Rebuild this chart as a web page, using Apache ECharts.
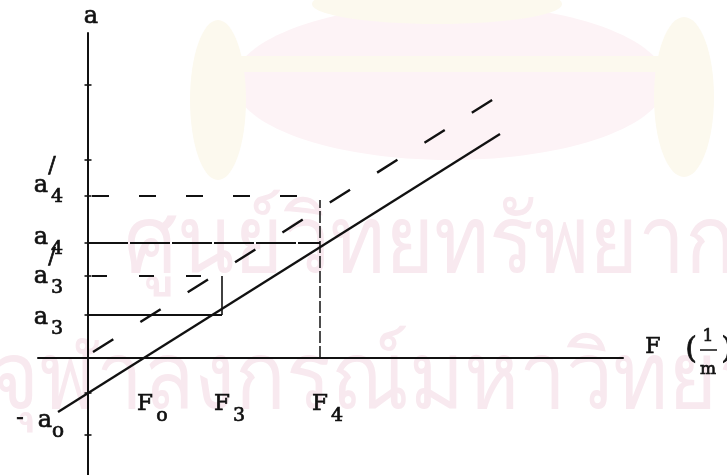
<!DOCTYPE html>
<html>
<head>
<meta charset="utf-8">
<script src="https://cdn.jsdelivr.net/npm/echarts@6/dist/echarts.min.js"></script>
<style>
html, body { margin: 0; padding: 0; background: #fff; }
#main { width: 727px; height: 475px; }
</style>
</head>
<body>
<div id="main"></div>
<script>
// values (1 unit ~ 10px)
var yLevelNames = ["a4'", 'a4', "a3'", 'a3'];
var yLevels = [16.2, 11.5, 8.2, 4.3];
var fNames = ['F0', 'F3', 'F4'];
var fValues = [5.7, 13.4, 23.2];
var a0 = -3.5;
var yTickMarks = [27.3, 19.8, 16.2, 11.5, 8.2, 4.3, -3.5, -7.7];
var solidLine = [[-3.0, -5.4], [41.2, 22.4]];
var dashedLine = [[0.5, 0.6], [42.0, 26.8]];

// hand lettering sits a little off the tick on the scan
var labelDy = [-10, -5, 1, 3];

var a4p = yLevels[0], a4 = yLevels[1], a3p = yLevels[2], a3 = yLevels[3];
var F3 = fValues[1], F4 = fValues[2];
var ink = '#111';
var font = '"DejaVu Serif", "Liberation Serif", serif';

function seg(data, type, width) {
    return {
        type: 'line',
        data: data,
        symbol: 'none',
        silent: true,
        z: 3,
        lineStyle: { color: ink, width: width, type: type }
    };
}

var option = {
    animation: false,
    backgroundColor: '#fff',
    grid: { left: 38, right: 104, top: 33, bottom: 0 },
    xAxis: {
        type: 'value',
        min: -5,
        max: 53.5,
        axisLine: { onZero: true, lineStyle: { color: ink, width: 2 } },
        axisTick: { show: false },
        axisLabel: { show: false },
        splitLine: { show: false }
    },
    yAxis: {
        type: 'value',
        min: -11.7,
        max: 32.5,
        axisLine: { onZero: true, lineStyle: { color: ink, width: 2 } },
        axisTick: { show: false },
        axisLabel: { show: false },
        splitLine: { show: false }
    },
    series: [
        seg(solidLine, 'solid', 2.3),
        seg(dashedLine, [24, 32], 2.4),
        seg([[0, a3], [F3, a3]], 'solid', 2),
        seg([[F3, a3], [F3, a3p]], 'solid', 1.6),
        seg([[0.4, a3p], [F3, a3p]], [15, 32], 1.8),
        seg([[0, a4], [F4, a4]], [40, 2], 1.8),
        seg([[0.4, a4p], [F4, a4p]], [17, 30], 1.8),
        seg([[F4, 0], [F4, a4p - 0.4]], [12, 3], 1.5),
        {
            type: 'scatter',
            silent: true,
            symbol: 'rect',
            symbolSize: [7, 2],
            itemStyle: { color: ink },
            z: 4,
            data: yTickMarks.map(function (v) { return [0, v]; })
        }
    ]
};

var chart = echarts.init(document.getElementById('main'));
chart.setOption(option);

function txt(x, y, s, size) {
    return {
        type: 'text', x: x, y: y, z: 10, silent: true,
        style: {
            text: s, font: size + 'px ' + font, fill: ink,
            stroke: ink, lineWidth: 0.7,
            textAlign: 'center', textVerticalAlign: 'middle',
            align: 'center', verticalAlign: 'middle'
        }
    };
}
function px(x, y) { return chart.convertToPixel({ gridIndex: 0 }, [x, y]); }

var cream = '#fcf9ee';
var g = [
    // faint watermark of the scan
    { type: 'ellipse', z: -5, silent: true, shape: { cx: 450, cy: 82, rx: 216, ry: 78 }, style: { fill: '#fdf3f6' } },
    { type: 'rect', z: -4, silent: true, shape: { x: 200, y: 56, width: 505, height: 16, r: 8 }, style: { fill: cream } },
    { type: 'ellipse', z: -4, silent: true, shape: { cx: 218, cy: 100, rx: 28, ry: 80 }, style: { fill: cream } },
    { type: 'ellipse', z: -4, silent: true, shape: { cx: 684, cy: 97, rx: 30, ry: 80 }, style: { fill: cream } },
    { type: 'ellipse', z: -4, silent: true, shape: { cx: 437, cy: 4, rx: 125, ry: 20 }, style: { fill: cream } },
    { type: 'text', z: -3, silent: true, x: 124, y: 246, scaleY: 1.12,
      style: { text: 'ศูนย์วิทยทรัพยากร', font: '84px sans-serif', fill: '#f8e9ef', textVerticalAlign: 'middle', verticalAlign: 'middle' } },
    { type: 'text', z: -3, silent: true, x: -10, y: 382, scaleY: 1.12,
      style: { text: 'จุฬาลงกรณ์มหาวิทยาลัย', font: '84px sans-serif', fill: '#f8e9ef', textVerticalAlign: 'middle', verticalAlign: 'middle' } }
];

yLevels.forEach(function (v, i) {
    var p = px(0, v);
    var name = yLevelNames[i];
    var dy = labelDy[i];
    g.push(txt(p[0] - 47, p[1] + dy, 'a', 24));
    g.push(txt(p[0] - 31, p[1] + dy + 11, name.charAt(1), 19));
    if (name.indexOf("'") >= 0) {
        g.push(txt(p[0] - 36, p[1] + dy - 20, '/', 22));
    }
});
var pa = px(0, a0);
g.push(txt(pa[0] - 68, pa[1] + 25, '-', 22));
g.push(txt(pa[0] - 43, pa[1] + 28, 'a', 24));
g.push(txt(pa[0] - 30, pa[1] + 39, 'o', 20));

fValues.forEach(function (v, i) {
    var p = px(v, 0);
    var sub = fNames[i].charAt(1);
    g.push(txt(p[0], p[1] + 46, 'F', 23));
    g.push(txt(p[0] + 17, p[1] + 58, sub === '0' ? 'o' : sub, 19));
});

// axis names
var yTop = px(0, 32.5);
g.push(txt(yTop[0] + 3, yTop[1] - 16, 'a', 24));
var xEnd = px(53.5, 0);
g.push(txt(xEnd[0] + 30, xEnd[1] - 11, 'F', 22));
g.push(txt(xEnd[0] + 68, xEnd[1] - 8, '(', 30));
g.push(txt(xEnd[0] + 85, xEnd[1] - 21, '1', 17));
g.push({ type: 'line', z: 10, silent: true, shape: { x1: xEnd[0] + 77, y1: xEnd[1] - 8, x2: xEnd[0] + 94, y2: xEnd[1] - 8 }, style: { stroke: ink, lineWidth: 1.5 } });
g.push(txt(xEnd[0] + 85, xEnd[1] + 12, 'm', 17));
g.push(txt(xEnd[0] + 104, xEnd[1] - 8, ')', 30));

chart.setOption({ graphic: g });
</script>
</body>
</html>
